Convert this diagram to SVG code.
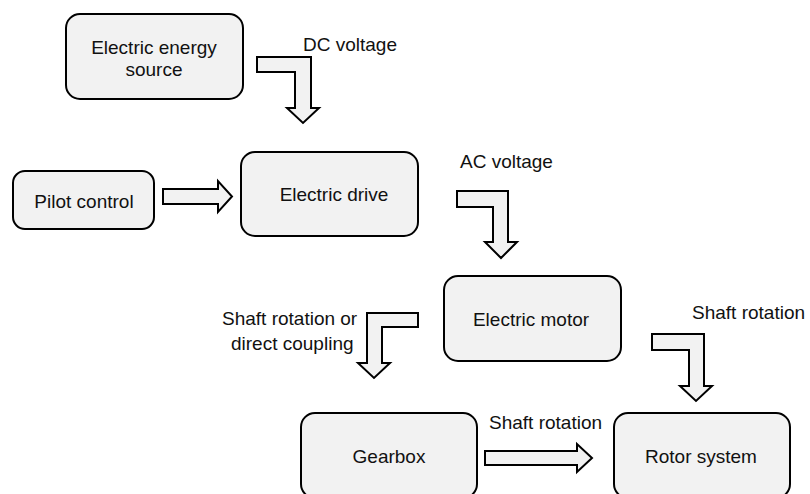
<svg xmlns="http://www.w3.org/2000/svg" width="810" height="494" viewBox="0 0 810 494">
  <style>
    .box { fill: #f2f2f2; stroke: #000; stroke-width: 2; }
    .arr { fill: #f2f2f2; stroke: #000; stroke-width: 2; stroke-linejoin: miter; }
    text { font-family: "Liberation Sans", Arial, sans-serif; font-size: 19px; fill: #111; }
    .c { text-anchor: middle; }
  </style>
  <rect width="810" height="494" fill="#fff"/>

  <g id="electric-energy-source">
    <rect class="box" x="66" y="14" width="177" height="85" rx="14"/>
    <text class="c" x="154" y="54">Electric energy</text>
    <text class="c" x="154" y="76">source</text>
  </g>
  <g id="pilot-control">
    <rect class="box" x="13" y="171" width="141" height="58" rx="12"/>
    <text class="c" x="84" y="208">Pilot control</text>
  </g>
  <g id="electric-drive">
    <rect class="box" x="241" y="152" width="177" height="84" rx="14"/>
    <text class="c" x="334" y="201">Electric drive</text>
  </g>
  <g id="electric-motor">
    <rect class="box" x="444" y="276" width="177" height="85" rx="14"/>
    <text class="c" x="531" y="326">Electric motor</text>
  </g>
  <g id="gearbox">
    <rect class="box" x="301" y="413" width="176" height="85" rx="14"/>
    <text class="c" x="389" y="463">Gearbox</text>
  </g>
  <g id="rotor-system">
    <rect class="box" x="614" y="413" width="176" height="85" rx="14"/>
    <text class="c" x="701" y="463">Rotor system</text>
  </g>

  <g id="connectors">
    <path class="arr" d="M257,57 H311 V108 H319 L303,123 L287,108 H295 V72 H257 Z"/>
    <path class="arr" d="M163,189 H218 V181 L232,196.5 L218,212 V204 H163 Z"/>
    <path class="arr" d="M457,191 H508 V242 H517 L501,258 L485,242 H493 V207 H457 Z"/>
    <path class="arr" d="M418,313 H367 V363 H358 L374,378 L390,363 H382 V327 H418 Z"/>
    <path class="arr" d="M652,334 H704 V386 H712 L696,401 L680,386 H689 V350 H652 Z"/>
    <path class="arr" d="M485,451 H577 V444 L592,458 L577,472 V465 H485 Z"/>
    <text x="303" y="51">DC voltage</text>
    <text x="460" y="168">AC voltage</text>
    <text x="222" y="325">Shaft rotation or</text>
    <text x="231" y="350">direct coupling</text>
    <text x="692" y="319">Shaft rotation</text>
    <text x="489" y="429">Shaft rotation</text>
  </g>
</svg>
